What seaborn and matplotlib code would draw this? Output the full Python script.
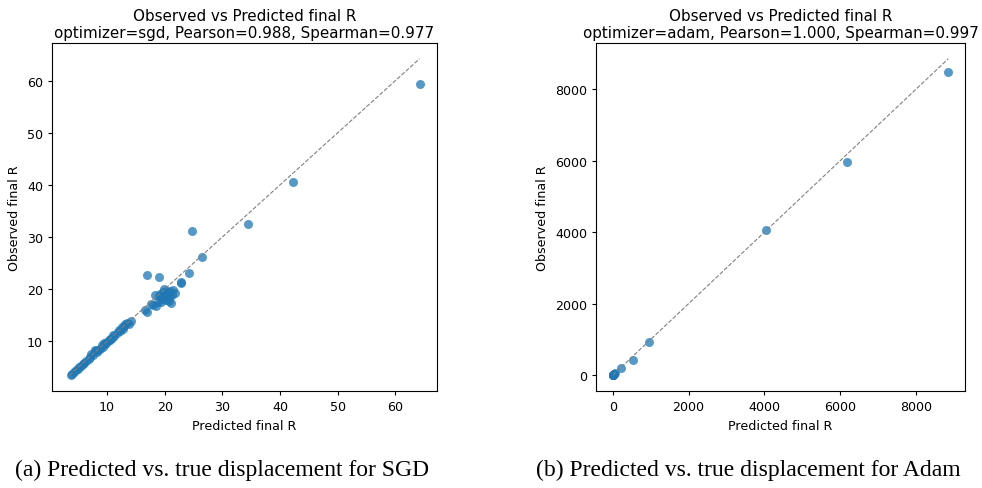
import matplotlib
matplotlib.use("Agg")
import matplotlib.pyplot as plt
import seaborn as sns
import numpy as np
import pandas as pd

# ---- SGD panel data (predicted, observed) ----
sgd_pred = [3.8, 4.0, 4.3, 4.6, 4.9, 5.2, 5.5, 5.8, 6.1, 6.4, 6.8, 7.1, 7.3, 7.6, 7.9,
            8.2, 8.5, 8.8, 9.1, 9.3, 9.6, 9.9, 10.2, 10.5, 10.8, 11.0, 11.3, 11.7, 12.0,
            12.3, 12.6, 12.9, 13.2, 13.5, 13.9, 14.2, 9.4, 10.6, 8.0, 12.8,
            16.6, 17.0, 17.6, 18.0, 18.5, 18.8, 19.0, 19.2, 19.5, 19.8, 20.0, 20.3,
            20.5, 20.7, 21.0, 21.1, 21.3, 21.5, 20.8, 19.4, 18.3, 21.8, 19.9, 20.2,
            22.8, 22.9, 16.9, 19.0, 24.2, 26.4, 24.7, 34.4, 42.2, 64.2]
sgd_obs = [3.5, 3.8, 4.2, 4.5, 4.7, 5.1, 5.3, 5.6, 5.9, 6.2, 6.6, 7.0, 7.6, 7.4, 8.1,
           7.9, 8.4, 8.6, 9.2, 8.9, 9.5, 9.7, 10.0, 10.4, 10.6, 11.2, 11.0, 11.6, 12.1,
           12.0, 12.7, 13.0, 13.3, 13.6, 13.4, 13.8, 9.7, 10.3, 8.3, 12.4,
           16.1, 15.6, 17.1, 16.9, 16.8, 17.5, 18.6, 19.1, 18.2, 19.5, 18.9, 17.9,
           19.3, 18.5, 19.6, 17.4, 18.8, 19.8, 17.8, 17.6, 18.9, 19.2, 20.0, 19.7,
           21.1, 21.4, 22.8, 22.3, 23.2, 26.1, 31.1, 32.6, 40.6, 59.4]

# ---- Adam panel data (predicted, observed) ----
adam_pred = [5, 12, 20, 30, 45, 60, 8, 15, 210, 527, 948, 4030, 6164, 8843]
adam_obs = [3, 10, 18, 28, 40, 55, 12, 9, 195, 418, 919, 4067, 5961, 8476]

titles = ["Observed vs Predicted final R\noptimizer=sgd, Pearson=0.988, Spearman=0.977",
          "Observed vs Predicted final R\noptimizer=adam, Pearson=1.000, Spearman=0.997"]
captions = ["(a) Predicted vs. true displacement for SGD",
            "(b) Predicted vs. true displacement for Adam"]
xlabel = "Predicted final R"
ylabel = "Observed final R"

sns.set_style("ticks", {"text.color": "black", "axes.labelcolor": "black",
                        "xtick.color": "black", "ytick.color": "black",
                        "axes.edgecolor": "black"})
plt.rcParams['font.family'] = ['DejaVu Sans']

fig = plt.figure(figsize=(9.82, 4.89), dpi=100)
ax1 = fig.add_axes([52/982, 1-392/489, (437-52)/982, (392-44)/489])
ax2 = fig.add_axes([596/982, 1-392/489, (965-596)/982, (392-44)/489])

for ax, xp, yo, title in [(ax1, sgd_pred, sgd_obs, titles[0]),
                          (ax2, adam_pred, adam_obs, titles[1])]:
    df = pd.DataFrame({"pred": xp, "obs": yo})
    sns.scatterplot(data=df, x="pred", y="obs", ax=ax, color="#1f77b4",
                    alpha=0.75, s=42, linewidth=0)
    lo = min(df.pred.min(), df.obs.min())
    hi = max(df.pred.max(), df.obs.max())
    ax.plot([lo, hi], [lo, hi], linestyle="--", color="gray", linewidth=0.8)
    ax.set_title(title, fontsize=10.9, pad=4, color="black")
    ax.set_xlabel(xlabel, fontsize=9.1, color="black")
    ax.set_ylabel(ylabel, fontsize=9.1, color="black")
    ax.tick_params(labelsize=9.1, length=3, color="black", labelcolor="black")
    for sp in ax.spines.values():
        sp.set_visible(True)
        sp.set_color("black")
        sp.set_linewidth(0.8)

ax1.set_xticks([10, 20, 30, 40, 50, 60])
ax1.set_yticks([10, 20, 30, 40, 50, 60])
ax2.set_xticks([0, 2000, 4000, 6000, 8000])
ax2.set_yticks([0, 2000, 4000, 6000, 8000])

fig.text(222/982, 1-470/489, captions[0], ha="center", va="center",
         fontsize=17, family=["Liberation Serif"], color="black")
fig.text(748/982, 1-470/489, captions[1], ha="center", va="center",
         fontsize=17, family=["Liberation Serif"], color="black")

fig.savefig("out.png", dpi=100)
